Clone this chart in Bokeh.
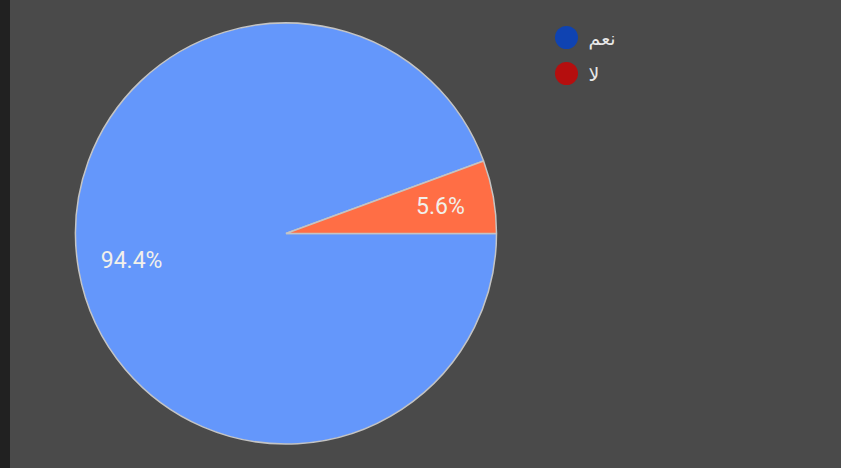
import numpy as np
from bokeh.plotting import figure
from bokeh.models import ColumnDataSource, Range1d
from bokeh.core.properties import value
from bokeh.embed import file_html
from bokeh.resources import INLINE

# ---- data ----
categories = ["نعم", "لا"]
values = [94.4, 5.6]
labels = ["94.4%", "5.6%"]
slice_colors = ["#6497FB", "#FF6E45"]
legend_colors = ["#0F43B2", "#B50E0E"]

# ---- layout constants (pixels, 1 data unit == 1 px) ----
W, H = 841, 468
PIE_CX, PIE_CY, PIE_R = 285.5, 235.0, 210.5
LABEL_R = 0.745
LEG_X, LEG_Y0, LEG_STEP = 566.0, 431.0, 36.0

p = figure(width=W, height=H, x_range=Range1d(0, W), y_range=Range1d(0, H),
           output_backend="svg", toolbar_location=None, min_border=0)
p.axis.visible = False
p.grid.visible = False
p.outline_line_color = None
p.background_fill_alpha = 0
p.border_fill_alpha = 0

frac = np.array(values, dtype=float) / np.sum(values)
rev = frac[::-1]
cum = np.cumsum(rev)
start = ((cum - rev) * 2 * np.pi)[::-1]
end = (cum * 2 * np.pi)[::-1]
mid = (start + end) / 2

src = ColumnDataSource(dict(
    cat=categories, start=start, end=end, color=slice_colors, label=labels,
    lx=PIE_CX + LABEL_R * PIE_R * np.cos(mid),
    ly=PIE_CY + LABEL_R * PIE_R * np.sin(mid),
))

p.wedge(x=PIE_CX, y=PIE_CY, radius=PIE_R, radius_units="screen",
        start_angle="start", end_angle="end", fill_color="color",
        line_color="#c4c4c4", line_width=1.5, source=src)

p.text(x="lx", y="ly", text="label", source=src, text_font=value("Roboto"),
       text_font_size="23px", text_color="#f2f0ea", text_align="center",
       text_baseline="middle")

n = len(categories)
leg = ColumnDataSource(dict(
    x=[LEG_X] * n,
    y=LEG_Y0 - LEG_STEP * np.arange(n),
    tx=[LEG_X + 22] * n,
    cat=categories, color=legend_colors,
))
p.scatter(x="x", y="y", size=23, fill_color="color", line_color=None, source=leg)
p.text(x="tx", y="y", text="cat", source=leg, text_font=value("DejaVu Sans"),
       text_font_size="19px", text_color="#e8e8e8", text_align="left",
       text_baseline="middle")

html = file_html(p, INLINE)
html = html.replace("</head>", "<style>html,body{background:linear-gradient(to right,#212121 0px,#212121 10px,#4a4a4a 10px);}</style></head>", 1)
open("out.html", "w").write(html)
